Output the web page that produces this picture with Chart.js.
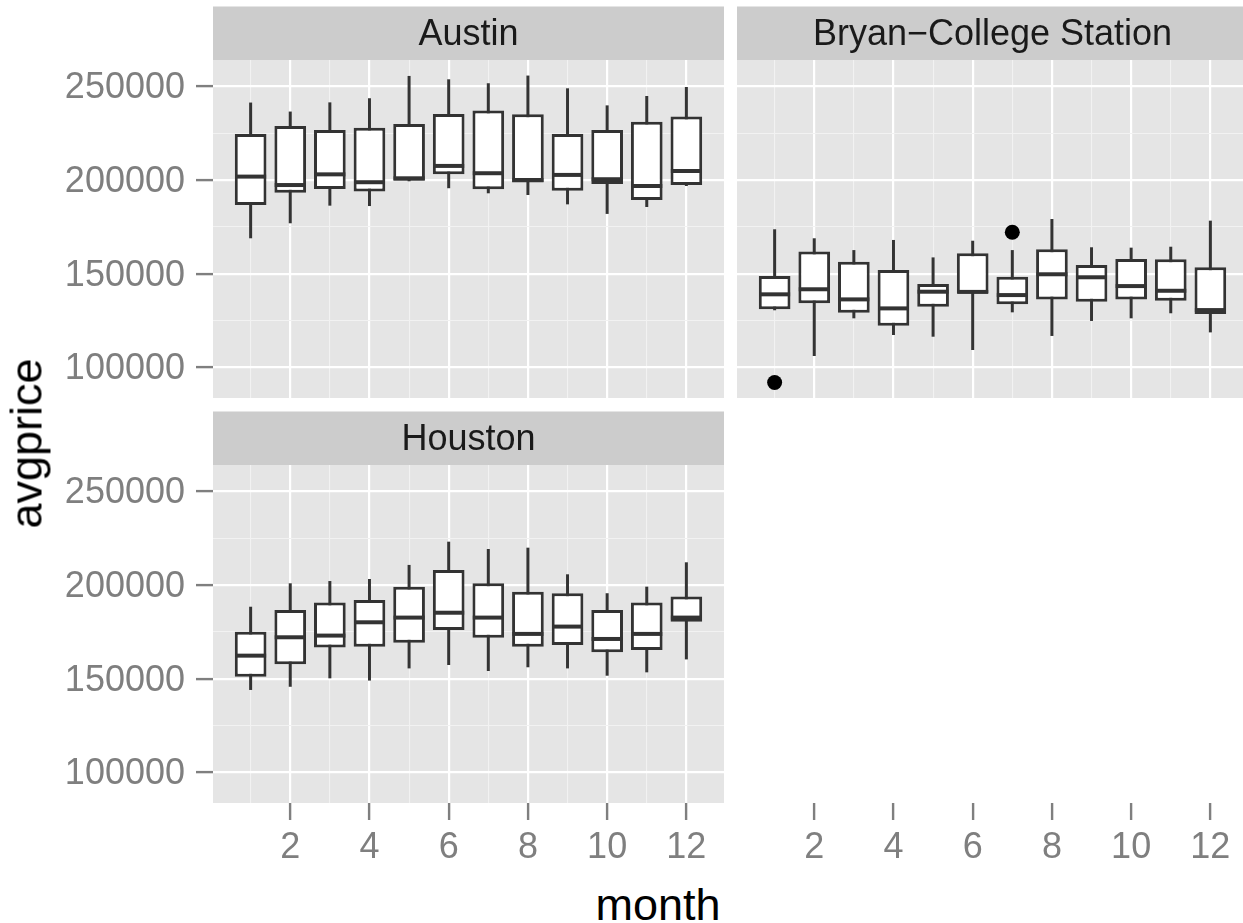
<!DOCTYPE html>
<html>
<head>
<meta charset="utf-8">
<script src="https://cdn.jsdelivr.net/npm/chart.js@4.4.0/dist/chart.umd.min.js"></script>
<style>
html, body { margin: 0; padding: 0; background: #fff; overflow: hidden; }
#wrap { position: relative; width: 1243px; height: 923px; overflow: hidden; font-family: "Liberation Sans", Arial, sans-serif; }
canvas { position: absolute; }
.title { position: absolute; font-size: 45px; line-height: 45px; height: 45px; color: #000; text-align: center; white-space: nowrap; }
</style>
</head>
<body>
<div id="wrap">
  <canvas id="austin" width="724" height="398" style="left:0;top:0"></canvas>
  <canvas id="bryan" width="511" height="398" style="left:737px;top:0"></canvas>
  <canvas id="houston" width="724" height="462" style="left:0;top:411px"></canvas>
  <canvas id="bryanAxis" width="511" height="71" style="left:737px;top:802px"></canvas>
  <div class="title" style="left:508px;top:882px;width:300px">month</div>
  <div class="title" style="left:-73.6px;top:420.5px;width:200px;transform:rotate(-90deg)">avgprice</div>
</div>
<script>
// monthly average price boxplots, one panel per city
const months = [1, 2, 3, 4, 5, 6, 7, 8, 9, 10, 11, 12];

const austinLow  = [168900, 176900, 186300, 186100, 199300, 195600, 192900, 192000, 187000, 181900, 185600, 196800];
const austinQ1   = [186700, 193200, 195200, 193800, 199600, 203000, 195000, 198600, 194300, 197900, 189300, 197300];
const austinMed  = [201800, 197300, 203000, 198800, 200900, 207500, 203600, 200000, 202700, 200400, 196800, 204800];
const austinQ3   = [224500, 228800, 226700, 227900, 229900, 235200, 237000, 235000, 224500, 226700, 231000, 233800];
const austinHigh = [241300, 236500, 241400, 243600, 255500, 253700, 251600, 255700, 248900, 239800, 244800, 249600];

const bryanLow  = [130500, 106100, 126200, 117300, 116400, 109300, 129400, 116800, 124800, 126200, 128900, 118700];
const bryanQ1   = [131000, 134200, 129200, 122300, 132400, 139500, 133700, 136300, 135100, 136300, 135600, 128500];
const bryanMed  = [139000, 141700, 136300, 131500, 140400, 140300, 138600, 149700, 148100, 143400, 140900, 130600];
const bryanQ3   = [148800, 161800, 156400, 152000, 144500, 160900, 148400, 163000, 154600, 157800, 157700, 153400];
const bryanHigh = [173700, 168900, 162600, 168000, 158700, 167600, 162600, 179200, 164100, 163900, 164400, 178300];
const bryanOutlierMonths = [1, 7];
const bryanOutlierValues = [92000, 172100];

const houstonLow  = [144000, 145700, 150200, 149000, 155500, 157300, 154100, 156100, 155500, 151600, 153400, 160300];
const houstonQ1   = [151100, 157700, 166600, 167100, 169200, 176000, 171900, 167100, 168000, 164100, 165300, 180400];
const houstonMed  = [162300, 172100, 173000, 180100, 182600, 185200, 182600, 173900, 177800, 171200, 173900, 182600];
const houstonQ3   = [175100, 186700, 190600, 192000, 199100, 208000, 200900, 196400, 195600, 186700, 190600, 193800];
const houstonHigh = [188400, 200900, 202100, 203200, 210700, 223100, 219200, 219900, 205700, 195600, 199100, 212100];

const yGrid = [100000, 125000, 150000, 175000, 200000, 225000, 250000];
const yMajor = [100000, 150000, 200000, 250000];
const xMajor = [2, 4, 6, 8, 10, 12];

const yMin = 83700, yMax = 264000;
const xMin = 0.05, xMax = 12.95;

const INK = '#333333';
const GREY50 = '#7F7F7F';
Chart.defaults.font.family = '"Liberation Sans", Arial, sans-serif';

const facetPlugin = {
  id: 'facet',
  beforeDraw(chart, args, opts) {
    if (!opts.strip) return;
    const {ctx, chartArea: a} = chart;
    const h = 53.5;
    ctx.save();
    ctx.fillStyle = '#E5E5E5';
    ctx.fillRect(a.left, a.top, a.right - a.left, a.bottom - a.top);
    ctx.fillStyle = '#CCCCCC';
    ctx.fillRect(a.left, a.top - h, a.right - a.left, h);
    ctx.fillStyle = '#1A1A1A';
    ctx.font = '36px "Liberation Sans", Arial, sans-serif';
    ctx.textAlign = 'center';
    ctx.textBaseline = 'middle';
    ctx.fillText(opts.strip, (a.left + a.right) / 2, a.top - h / 2 + 2);
    ctx.restore();
  }
};

function boxDatasets(low, q1, med, q3, high) {
  return [
    {
      type: 'bar',
      data: months.map((m, i) => ({x: m, y: [low[i], high[i]]})),
      backgroundColor: INK, borderWidth: 0, grouped: false, maxBarThickness: 3, order: 3
    },
    {
      type: 'bar',
      data: months.map((m, i) => ({x: m, y: [q1[i], q3[i]]})),
      backgroundColor: '#FFFFFF', borderColor: INK, borderWidth: 3, borderSkipped: false,
      grouped: false, categoryPercentage: 1, barPercentage: 0.8, order: 2
    },
    {
      type: 'scatter',
      data: months.map((m, i) => ({x: m, y: med[i]})),
      pointStyle: 'line', pointRadius: 15.5, pointBorderColor: INK, pointBorderWidth: 4, order: 1
    }
  ];
}

function xScale(showLabels, drawArea) {
  return {
    type: 'linear', min: xMin, max: xMax, offset: false,
    afterBuildTicks: s => { s.ticks = months.map(v => ({value: v})); },
    afterFit: s => { s.height = showLabels ? 70 : 0; s.paddingLeft = 0; s.paddingRight = 0; },
    border: {display: false},
    grid: {
      offset: false,
      drawOnChartArea: drawArea,
      color: c => xMajor.includes(c.tick.value) ? '#FFFFFF' : '#F2F2F2',
      lineWidth: c => xMajor.includes(c.tick.value) ? 2.2 : 1.1,
      drawTicks: showLabels, tickLength: 17, tickWidth: 2.4,
      tickColor: c => xMajor.includes(c.tick.value) ? GREY50 : 'rgba(0,0,0,0)'
    },
    ticks: {
      display: showLabels, padding: 6, color: GREY50, font: {size: 36},
      autoSkip: false, maxRotation: 0,
      callback: v => xMajor.includes(v) ? String(v) : ''
    }
  };
}

function yScale(showLabels, hidden) {
  return {
    type: 'linear', display: !hidden, min: yMin, max: yMax, beginAtZero: false,
    afterBuildTicks: s => { s.ticks = yGrid.map(v => ({value: v})); },
    afterFit: s => { s.width = showLabels ? 213 : 0; s.paddingTop = 0; s.paddingBottom = 0; },
    border: {display: false},
    grid: {
      color: c => yMajor.includes(c.tick.value) ? '#FFFFFF' : '#F2F2F2',
      lineWidth: c => yMajor.includes(c.tick.value) ? 2.2 : 1.1,
      drawTicks: showLabels, tickLength: 17, tickWidth: 2.4,
      tickColor: c => yMajor.includes(c.tick.value) ? GREY50 : 'rgba(0,0,0,0)'
    },
    ticks: {
      display: showLabels, padding: 11, labelOffset: 2, color: GREY50, font: {size: 36}, autoSkip: false,
      callback: v => yMajor.includes(v) ? String(v) : ''
    }
  };
}

function panel(id, strip, datasets, showX, showY, padTop) {
  return new Chart(document.getElementById(id), {
    type: 'bar',
    data: {datasets: datasets},
    options: {
      responsive: false,
      animation: false,
      events: [],
      layout: {padding: {top: padTop, left: 0, right: 0, bottom: 0}, autoPadding: false},
      plugins: {legend: {display: false}, tooltip: {enabled: false}, facet: {strip: strip}},
      scales: {x: xScale(showX, true), y: yScale(showY, false)}
    },
    plugins: [facetPlugin]
  });
}

panel('austin', 'Austin',
  boxDatasets(austinLow, austinQ1, austinMed, austinQ3, austinHigh), false, true, 60);

const bryanSets = boxDatasets(bryanLow, bryanQ1, bryanMed, bryanQ3, bryanHigh);
bryanSets.push({
  type: 'scatter',
  data: bryanOutlierMonths.map((m, i) => ({x: m, y: bryanOutlierValues[i]})),
  pointStyle: 'circle', pointRadius: 7.5, pointBackgroundColor: '#000000', pointBorderWidth: 0, order: 0
});
panel('bryan', 'Bryan\u2212College Station', bryanSets, false, false, 60);

panel('houston', 'Houston',
  boxDatasets(houstonLow, houstonQ1, houstonMed, houstonQ3, houstonHigh), true, true, 54);

// x axis of the right column sits at the bottom row level
new Chart(document.getElementById('bryanAxis'), {
  type: 'scatter',
  data: {datasets: []},
  options: {
    responsive: false,
    animation: false,
    events: [],
    layout: {padding: 0, autoPadding: false},
    plugins: {legend: {display: false}, tooltip: {enabled: false}},
    scales: {x: xScale(true, false), y: yScale(false, true)}
  }
});
</script>
</body>
</html>
